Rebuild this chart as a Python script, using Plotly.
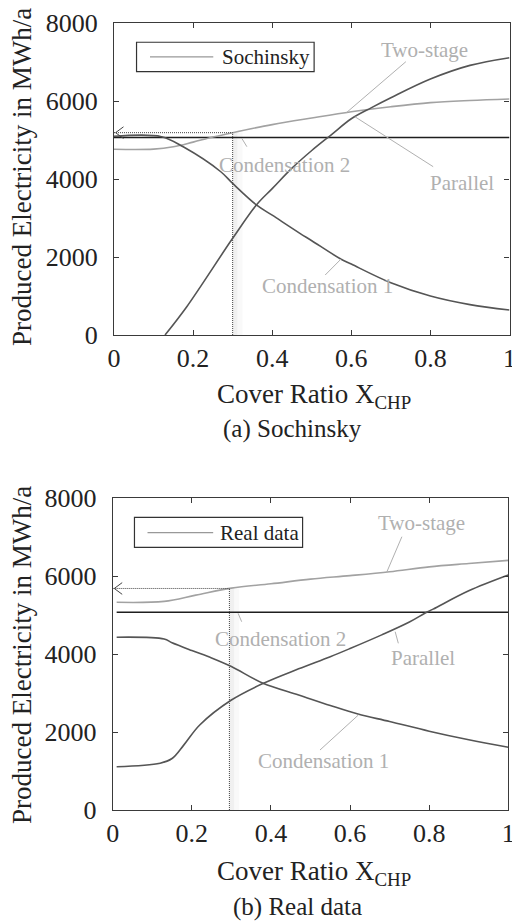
import plotly.graph_objects as go
import numpy as np

# ---------------- data ----------------
# (a) Sochinsky
ts_a_x = [0, 0.1, 0.15, 0.2, 0.25, 0.3, 0.4, 0.5, 0.6, 0.7, 0.8, 0.9, 1.0]
ts_a_y = [4766, 4770, 4830, 4950, 5080, 5193, 5400, 5570, 5730, 5860, 5965, 6020, 6057]
c1_a_x = [0, 0.12, 0.175, 0.27, 0.3, 0.36, 0.4, 0.47, 0.5, 0.57, 0.6, 0.7, 0.8, 0.9, 1.0]
c1_a_y = [5100, 5090, 4830, 4190, 3890, 3340, 3075, 2610, 2420, 1970, 1820, 1340, 1000, 780, 642]
pa_a_x = [0.129, 0.184, 0.3, 0.36, 0.4, 0.45, 0.5, 0.55, 0.6, 0.65, 0.7, 0.8, 0.9, 1.0]
pa_a_y = [0, 726, 2482, 3337, 3757, 4282, 4735, 5145, 5550, 5830, 6090, 6570, 6920, 7117]
c2_a_x = [0, 1.0]
c2_a_y = [5070, 5070]

# (b) Real data
ts_b_x = [0.01, 0.13, 0.21, 0.3, 0.4, 0.5, 0.6, 0.7, 0.8, 0.9, 1.0]
ts_b_y = [5325, 5350, 5510, 5690, 5800, 5920, 6010, 6110, 6235, 6320, 6400]
c1_b_x = [0.01, 0.13, 0.15, 0.2, 0.25, 0.3, 0.38, 0.47, 0.55, 0.62, 0.7, 0.8, 0.9, 1.0]
c1_b_y = [4430, 4385, 4290, 4090, 3900, 3680, 3250, 2950, 2680, 2460, 2270, 2020, 1800, 1608]
pa_b_x = [0.01, 0.12, 0.15, 0.18, 0.22, 0.3, 0.38, 0.47, 0.55, 0.6, 0.68, 0.75, 0.79, 0.81, 0.9, 1.0]
pa_b_y = [1110, 1200, 1320, 1670, 2180, 2820, 3245, 3620, 3930, 4140, 4490, 4820, 5050, 5150, 5620, 6025]
c2_b_x = [0.01, 1.0]
c2_b_y = [5070, 5070]

x_ticks = [0, 0.2, 0.4, 0.6, 0.8, 1.0]
x_ticktext = ["0", "0.2", "0.4", "0.6", "0.8", "1"]
y_ticks = [0, 2000, 4000, 6000, 8000]
y_ticktext = ["0", "2000", "4000", "6000", "8000"]

marker_a = 0.3
marker_b = 0.295

# ---------------- style ----------------
LIGHT = '#a2a2a2'
DARK = '#555555'
BLACK = '#1e1e1e'
LABEL = '#b0b0b0'
AXC = '#3a3a3a'
FONT = 'Liberation Serif, Times New Roman, Times, serif'

fig = go.Figure()

panels = [
    dict(xr='x', yr='y', ts=(ts_a_x, ts_a_y), c1=(c1_a_x, c1_a_y), pa=(pa_a_x, pa_a_y),
         c2=(c2_a_x, c2_a_y), mark=marker_a, legend='Sochinsky',
         labels=[  # text (x,y), pointer from, pointer to
             ('Two-stage', (0.786, 7315), (0.738, 7015), (0.588, 5710)),
             ('Parallel', (0.881, 3894), (0.807, 4320), (0.609, 5603)),
             ('Condensation 2', (0.430, 4363), (0.336, 4833), (0.323, 5049)),
             ('Condensation 1', (0.540, 1258), (0.534, 1540), (0.576, 1969)),
         ],
         legbox=(0.057, 6758, 0.506, 7513), legline=(0.091, 0.251, 7140), legtext=0.268),
    dict(xr='x2', yr='y2', ts=(ts_b_x, ts_b_y), c1=(c1_b_x, c1_b_y), pa=(pa_b_x, pa_b_y),
         c2=(c2_b_x, c2_b_y), mark=marker_b, legend='Real data',
         labels=[
             ('Two-stage', (0.781, 7351), (0.731, 7007), (0.693, 6105)),
             ('Parallel', (0.784, 3890), (0.722, 4274), (0.714, 4572)),
             ('Condensation 2', (0.425, 4384), (0.326, 4828), (0.317, 5043)),
             ('Condensation 1', (0.532, 1256), (0.524, 1538), (0.621, 2436)),
         ],
         legbox=(0.055, 6736, 0.480, 7505), legline=(0.088, 0.254, 7110), legtext=0.266),
]

shapes = []
annotations = []

for p in panels:
    xr, yr = p['xr'], p['yr']
    fig.add_trace(go.Scatter(x=p['c2'][0], y=p['c2'][1], mode='lines',
                             line=dict(color=BLACK, width=1.6), xaxis=xr, yaxis=yr,
                             showlegend=False, hoverinfo='skip'))
    fig.add_trace(go.Scatter(x=p['ts'][0], y=p['ts'][1], mode='lines', line_shape='spline',
                             line=dict(color=LIGHT, width=1.6), xaxis=xr, yaxis=yr,
                             showlegend=False, hoverinfo='skip'))
    fig.add_trace(go.Scatter(x=p['c1'][0], y=p['c1'][1], mode='lines', line_shape='spline',
                             line=dict(color=DARK, width=1.6), xaxis=xr, yaxis=yr,
                             showlegend=False, hoverinfo='skip'))
    fig.add_trace(go.Scatter(x=p['pa'][0], y=p['pa'][1], mode='lines', line_shape='spline',
                             line=dict(color=DARK, width=1.6), xaxis=xr, yaxis=yr,
                             showlegend=False, hoverinfo='skip'))

    m = p['mark']
    mv = float(np.interp(m, p['ts'][0], p['ts'][1]))
    shapes.append(dict(type='rect', xref=xr, yref=yr, x0=m, x1=m + 0.012, y0=0, y1=mv,
                       fillcolor='rgba(0,0,0,0.06)', line=dict(width=0), layer='below'))
    shapes.append(dict(type='rect', xref=xr, yref=yr, x0=m + 0.012, x1=m + 0.025, y0=0, y1=mv,
                       fillcolor='rgba(0,0,0,0.025)', line=dict(width=0), layer='below'))
    shapes.append(dict(type='line', xref=xr, yref=yr, x0=m, x1=m, y0=0, y1=mv,
                       line=dict(color='#444', width=1, dash='1px,1px')))
    shapes.append(dict(type='line', xref=xr, yref=yr, x0=0, x1=m, y0=mv, y1=mv,
                       line=dict(color='#444', width=1, dash='1px,1px')))
    shapes.append(dict(type='line', xref=xr, yref=yr, x0=0.004, x1=0.024, y0=mv, y1=mv + 150,
                       line=dict(color='#444', width=1)))
    shapes.append(dict(type='line', xref=xr, yref=yr, x0=0.004, x1=0.024, y0=mv, y1=mv - 150,
                       line=dict(color='#444', width=1)))

    for txt, (tx, ty), (ax0, ay0), (ax1, ay1) in p['labels']:
        annotations.append(dict(text=txt, x=tx, y=ty, xref=xr, yref=yr, showarrow=False,
                                font=dict(family=FONT, size=21, color=LABEL),
                                xanchor='center', yanchor='middle'))
        shapes.append(dict(type='line', xref=xr, yref=yr, x0=ax0, y0=ay0, x1=ax1, y1=ay1,
                           line=dict(color=LABEL, width=1)))

    bx0, by0, bx1, by1 = p['legbox']
    shapes.append(dict(type='rect', xref=xr, yref=yr, x0=bx0, x1=bx1, y0=by0, y1=by1,
                       line=dict(color='#333', width=1.2), fillcolor='white'))
    lx0, lx1, ly = p['legline']
    shapes.append(dict(type='line', xref=xr, yref=yr, x0=lx0, x1=lx1, y0=ly, y1=ly,
                       line=dict(color='#999', width=1.3)))
    annotations.append(dict(text=p['legend'], x=p['legtext'], y=ly, xref=xr, yref=yr,
                            showarrow=False, xanchor='left', yanchor='middle',
                            font=dict(family=FONT, size=21, color='#222')))

W, H = 512, 923
def px(xp):
    return xp / W
def py(yp):
    return 1 - yp / H

title_font = dict(family=FONT, size=27, color='#222')
for ymid, xtitle_y, cap, cap_x, cap_y in [
    (177, 396, '(a) Sochinsky', 292.5, 429),
    (655, 873, '(b) Real data', 297, 907),
]:
    annotations.append(dict(text='Produced Electricity in MWh/a', x=px(22), y=py(ymid),
                            xref='paper', yref='paper', textangle=-90, showarrow=False,
                            xanchor='center', yanchor='middle', font=title_font))
    annotations.append(dict(text='Cover Ratio X<sub>CHP</sub>', x=px(314), y=py(xtitle_y),
                            xref='paper', yref='paper', showarrow=False,
                            xanchor='center', yanchor='middle', font=title_font))
    annotations.append(dict(text=cap, x=px(cap_x), y=py(cap_y), xref='paper', yref='paper',
                            showarrow=False, xanchor='center', yanchor='middle',
                            font=dict(family=FONT, size=25, color='#222')))

axis_common = dict(showline=True, mirror='ticks', linecolor=AXC, linewidth=1.2,
                   ticks='inside', ticklen=5, tickcolor=AXC, tickwidth=1,
                   showgrid=False, zeroline=False, ticklabeloverflow='allow',
                   automargin=False,
                   tickfont=dict(family=FONT, size=26, color='#222'))

fig.update_layout(
    width=W, height=H,
    margin=dict(l=0, r=0, t=0, b=0, autoexpand=False),
    paper_bgcolor='white', plot_bgcolor='white',
    showlegend=False,
    xaxis=dict(domain=[px(114), px(509.5)], anchor='y', range=[0, 1],
               tickvals=x_ticks, ticktext=x_ticktext, ticklabelstandoff=0, **axis_common),
    yaxis=dict(domain=[py(335), py(23.3)], anchor='x', range=[0, 8000],
               tickvals=y_ticks, ticktext=y_ticktext, ticklabelstandoff=10, **axis_common),
    xaxis2=dict(domain=[px(112.7), px(508.3)], anchor='y2', range=[0, 1],
                tickvals=x_ticks, ticktext=x_ticktext, ticklabelstandoff=0, **axis_common),
    yaxis2=dict(domain=[py(810), py(498)], anchor='x2', range=[0, 8000],
                tickvals=y_ticks, ticktext=y_ticktext, ticklabelstandoff=10, **axis_common),
    shapes=shapes,
    annotations=annotations,
)

fig.write_html("out.html")
